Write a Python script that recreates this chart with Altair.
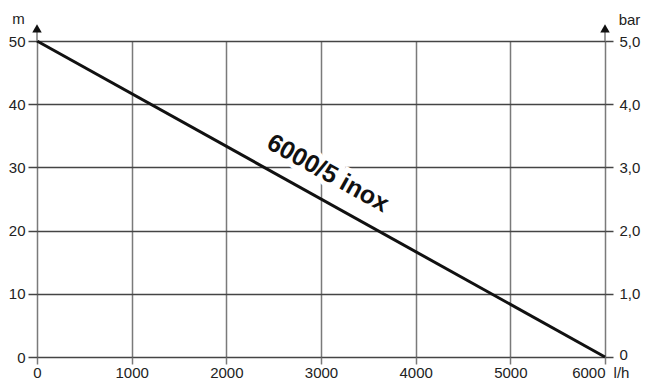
import altair as alt
import pandas as pd

# ---- data ----
flow = [0, 6000]            # l/h
head = [50, 0]              # m
x_ticks = [0, 1000, 2000, 3000, 4000, 5000, 6000]
y_ticks = [0, 10, 20, 30, 40, 50]
bar_ticks = [0, 1, 2, 3, 4, 5]
curve_label = ["6000/5 inox"]
curve_label_x = [3074]
curve_label_y = [29.1]
arrow_x = [0, 6000]

FONT = "Liberation Sans"
W, H = 568, 316
HGRID = "#444444"
VGRID = "#7a7a7a"
TXT = "#222222"

line_df = pd.DataFrame({"q": flow, "h": head})
lab_df = pd.DataFrame({"q": curve_label_x, "h": curve_label_y, "t": curve_label})
arr_df = pd.DataFrame({"q": arrow_x, "y0": [50, 50], "y1": [51.6, 51.6], "ya": [52.0, 52.0]})
bar_df = pd.DataFrame({"q": [0, 0], "b": [0, 5]})

xs = alt.Scale(domain=[0, 6000], nice=False, zero=False)
ys = alt.Scale(domain=[0, 50], nice=False)

x_axis = alt.Axis(
    values=x_ticks, format="d", grid=True, gridColor=VGRID, gridWidth=1.5, domain=False,
    tickColor=VGRID, tickSize=7, tickWidth=1.5,
    labelFont=FONT, labelFontSize=15, labelColor=TXT, labelPadding=1,
    labelAlign={"condition": {"test": "datum.value == 6000", "value": "right"}, "value": "center"},
    title="l/h", titleFont=FONT, titleFontSize=15, titleFontWeight="normal", titleColor=TXT,
    titleX=584, titleY=8, titleAlign="center", titleBaseline="top", titleAngle=0,
)
y_axis = alt.Axis(
    values=y_ticks, grid=True, gridColor=HGRID, gridWidth=1.5, domain=False,
    tickColor=HGRID, tickSize=9, tickWidth=1.5,
    labelFont=FONT, labelFontSize=15, labelColor=TXT, labelPadding=3,
    title="m", titleFont=FONT, titleFontSize=15, titleFontWeight="normal", titleColor=TXT,
    titleX=-19, titleY=-23, titleAlign="center", titleBaseline="middle", titleAngle=0,
)
bar_axis = alt.Axis(
    orient="right", values=bar_ticks, grid=False, domain=False,
    tickColor=HGRID, tickSize=8, tickWidth=1.5,
    labelFont=FONT, labelFontSize=15, labelColor=TXT, labelPadding=6,
    labelOffset={"condition": {"test": "datum.value == 0", "value": -3}, "value": 0},
    labelExpr="datum.value == 0 ? '0' : replace(format(datum.value, '.1f'), '.', ',')",
    title="bar", titleFont=FONT, titleFontSize=15, titleFontWeight="normal", titleColor=TXT,
    titleX=24, titleY=-22, titleAlign="center", titleBaseline="middle", titleAngle=0,
)

X = alt.X("q:Q", scale=xs, axis=x_axis)
Y = alt.Y("h:Q", scale=ys, axis=y_axis)

curve = alt.Chart(line_df).mark_line(color="#111111", strokeWidth=3, clip=False).encode(x=X, y=Y)

halo = alt.Chart(lab_df).mark_text(
    font=FONT, fontSize=25, fontWeight="bold", angle=29, align="center", baseline="middle",
    fill="white", stroke="white", strokeWidth=10,
).encode(x=alt.X("q:Q", scale=xs), y=alt.Y("h:Q", scale=ys), text="t:N")
label = alt.Chart(lab_df).mark_text(
    font=FONT, fontSize=25, fontWeight="bold", angle=29, align="center", baseline="middle",
    color="#111111",
).encode(x=alt.X("q:Q", scale=xs), y=alt.Y("h:Q", scale=ys), text="t:N")

arrow_stem = alt.Chart(arr_df).mark_rule(color=VGRID, strokeWidth=1.5, clip=False).encode(
    x=alt.X("q:Q", scale=xs), y=alt.Y("y0:Q", scale=ys), y2="y1:Q")
arrow_head = alt.Chart(arr_df).mark_point(
    shape="triangle-up", filled=True, color="#111111", size=90, opacity=1, clip=False
).encode(x=alt.X("q:Q", scale=xs), y=alt.Y("ya:Q", scale=ys))

left = alt.layer(halo, curve, label, arrow_stem, arrow_head)

right = alt.Chart(bar_df).mark_point(opacity=0).encode(
    x=alt.X("q:Q", scale=xs),
    y=alt.Y("b:Q", scale=alt.Scale(domain=[0, 5], nice=False), axis=bar_axis),
)

chart = alt.layer(left, right).resolve_scale(y="independent").properties(
    width=W, height=H,
    autosize=alt.AutoSizeParams(type="none"),
    padding={"left": 29, "top": 33, "right": 36, "bottom": 22},
).configure_view(stroke=None).configure(background="white")

chart.save("out.html", embed_options={"renderer": "svg", "actions": False})
